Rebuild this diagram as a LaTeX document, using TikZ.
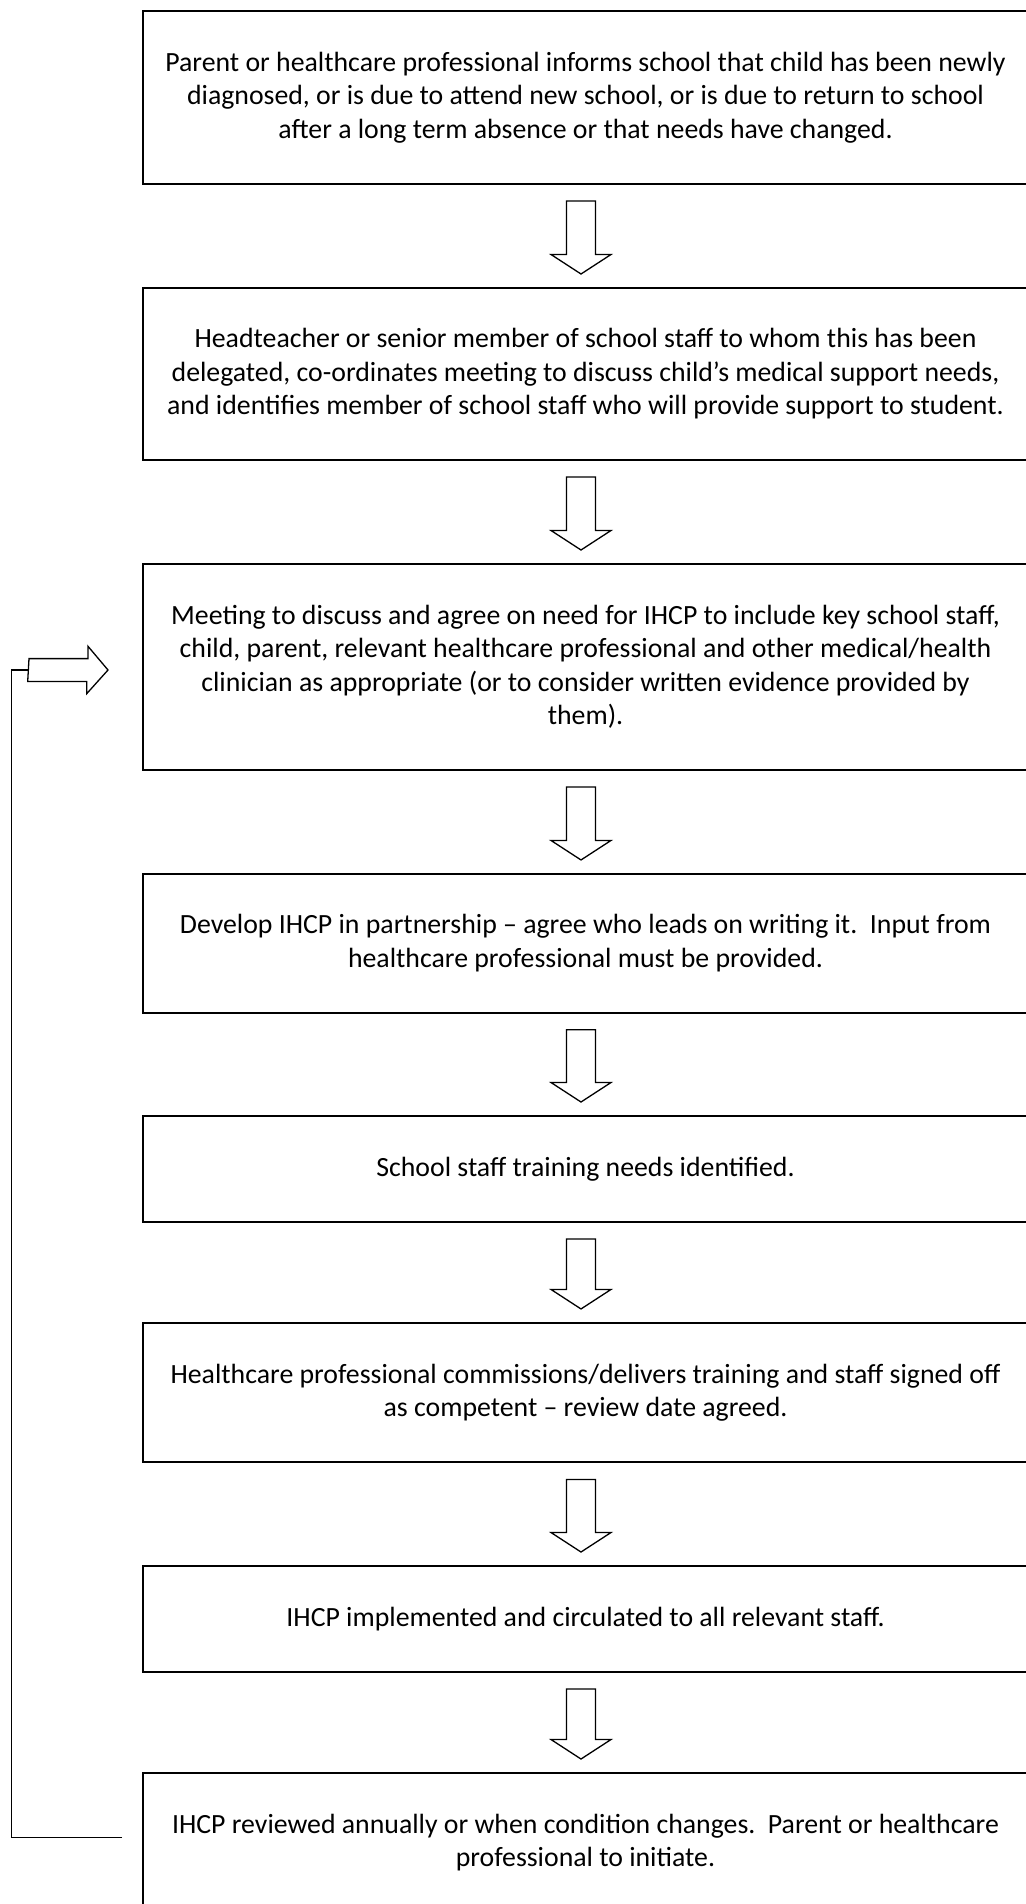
\documentclass[tikz,border=0pt]{standalone}
\usepackage{fontspec}
\setmainfont{Carlito}
\usetikzlibrary{calc}
\begin{document}
\begin{tikzpicture}[x=0.5pt,y=-0.5pt,
  flowbox/.style={draw=black,line width=1pt,minimum width=442.5pt,align=center,inner sep=0pt,
    font=\fontsize{13.9pt}{16.75pt}\selectfont},
  blockarrow/.style={draw=black,line width=0.65pt,fill=white,line join=miter},
  feedline/.style={draw=black,line width=0.65pt}]
\useasboundingbox (0,0) rectangle (1026,1904);
\node[flowbox,minimum height=86.65pt] (b1) at (585.5,97.3) {Parent or healthcare professional informs school that child has been newly\\ diagnosed, or is due to attend new school, or is due to return to school\\ after a long term absence or that needs have changed.};
\node[flowbox,minimum height=86pt] (b2) at (585.5,374) {Headteacher or senior member of school staff to whom this has been\\ delegated, co-ordinates meeting to discuss child’s medical support needs,\\ and identifies member of school staff who will provide support to student.};
\node[flowbox,minimum height=103pt] (b3) at (585.5,667) {Meeting to discuss and agree on need for IHCP to include key school staff,\\ child, parent, relevant healthcare professional and other medical/health\\ clinician as appropriate (or to consider written evidence provided by\\ them).};
\node[flowbox,minimum height=69.35pt] (b4) at (585.5,943.3) {Develop IHCP in partnership – agree who leads on writing it.\ \ Input from\\ healthcare professional must be provided.};
\node[flowbox,minimum height=53pt] (b5) at (585.5,1169) {School staff training needs identified.};
\node[flowbox,minimum height=69.75pt] (b6) at (585.5,1392.7) {Healthcare professional commissions/delivers training and staff signed off\\ as competent – review date agreed.};
\node[flowbox,minimum height=53pt] (b7) at (585.5,1619) {IHCP implemented and circulated to all relevant staff.};
\node[flowbox,minimum height=69.5pt] (b8) at (585.5,1842.5) {IHCP reviewed annually or when condition changes.\ \ Parent or healthcare\\ professional to initiate.};
% down block arrows
\foreach \a/\b in {b1/b2,b2/b3,b3/b4,b4/b5,b5/b6,b6/b7,b7/b8}{
  \draw[blockarrow] let \p1=(\a.south), \p2=(\b.north) in
    (283.25pt,\y1-8pt) -- (283.25pt,\y2+16.25pt) -- (275.5pt,\y2+16.25pt) -- (290.5pt,\y2+6.5pt)
    -- (305.5pt,\y2+16.25pt) -- (297.75pt,\y2+16.25pt) -- (297.75pt,\y1-8pt) -- cycle;
}
% feedback loop
\coordinate (fbend) at ($(b8.west)+(-20,-4.8)$);
\coordinate (fbcorner) at (11.7,0 |- fbend);
\coordinate (arrowtip) at ($(b3.west)+(-34,3)$);
\coordinate (fbtop) at (fbcorner |- arrowtip);
\coordinate (arrowtail) at (29,0 |- arrowtip);
\draw[feedline] (fbend) -- (fbcorner) -- (fbtop) -- (arrowtail);
\draw[blockarrow] (arrowtail) ++(0,-11.4) -- ++(59,0) -- ++(0,-12.3) -- (arrowtip) -- ++(-21.3,23.7) -- ++(0,-12.3) -- ++(-59,0) -- cycle;
\end{tikzpicture}
\end{document}
